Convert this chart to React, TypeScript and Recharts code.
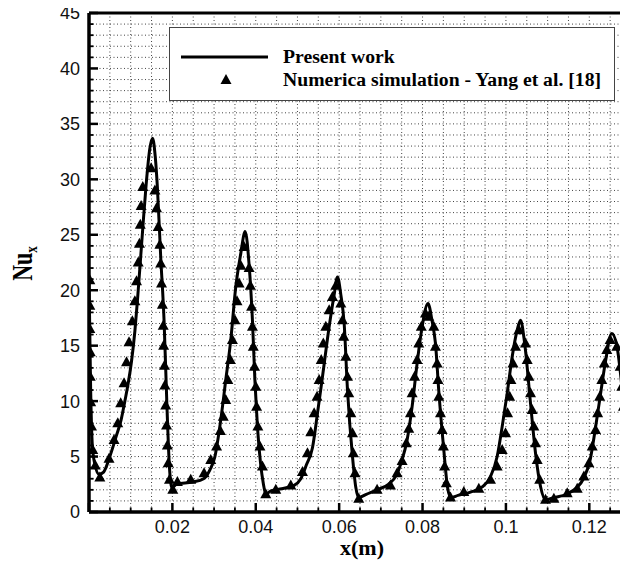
import {
  ComposedChart,
  Line,
  Scatter,
  XAxis,
  YAxis,
  CartesianGrid,
  ReferenceLine,
  Legend,
} from 'recharts';

// Present work (solid line), [x (m), Nu_x]
const presentWork: [number, number][] = [
  [0, 21], [0.0004, 11], [0.0008, 6], [0.0014, 4.3], [0.0024, 3.4], [0.0035, 3.6],
  [0.005, 5.0], [0.0065, 6.8], [0.0077, 8.3], [0.0086, 10.0], [0.0094, 11.6], [0.0102, 13.6],
  [0.011, 16.3], [0.0116, 19.0], [0.0122, 22.0], [0.0129, 25.6], [0.0137, 29.5], [0.0146, 32.8],
  [0.01525, 33.7], [0.0159, 32.0], [0.0164, 29.3], [0.0172, 23.0], [0.018, 17.3], [0.0187, 9.5],
  [0.0193, 4.0], [0.0199, 2.2], [0.021, 2.5], [0.0248, 2.7], [0.0275, 3.0], [0.029, 3.8],
  [0.0302, 5.0], [0.0316, 8.3], [0.0328, 11.9], [0.034, 15.5], [0.0352, 20.3], [0.0364, 23.3],
  [0.03745, 25.3], [0.0384, 22.3], [0.0392, 17.3], [0.0398, 11.8], [0.0404, 7.7], [0.0412, 4.2],
  [0.0418, 2.6], [0.0424, 1.6], [0.0436, 1.9], [0.0462, 2.1], [0.0492, 2.4], [0.0508, 3.0],
  [0.0522, 4.3], [0.0536, 5.8], [0.0548, 8.9], [0.056, 12.2], [0.0576, 16.7], [0.0588, 19.6],
  [0.0596, 21.2], [0.0604, 19.6], [0.0612, 17.0], [0.062, 11.0], [0.0632, 5.0], [0.064, 2.2],
  [0.0647, 1.3], [0.0665, 1.6], [0.0691, 2.0], [0.0718, 2.5], [0.0737, 3.3], [0.075, 4.6],
  [0.0763, 6.5], [0.0775, 9.5], [0.0787, 13.4], [0.0799, 16.7], [0.0813, 18.8], [0.0823, 17.2],
  [0.0831, 15.2], [0.0839, 10.9], [0.0851, 5.6], [0.086, 2.2], [0.0868, 1.3], [0.0885, 1.5],
  [0.0915, 1.8], [0.0945, 2.3], [0.0963, 3.2], [0.0979, 5.0], [0.0991, 7.7], [0.1003, 10.7],
  [0.1015, 14.0], [0.1027, 16.4], [0.1035, 17.3], [0.1045, 15.2], [0.1059, 9.8], [0.1071, 5.3],
  [0.1083, 2.3], [0.1095, 1.1], [0.1115, 1.3], [0.1145, 1.6], [0.117, 2.2], [0.1186, 3.0],
  [0.1202, 4.7], [0.1214, 7.4], [0.1226, 10.4], [0.1238, 13.4], [0.1254, 16.1], [0.1266, 15.0],
  [0.1282, 9.8], [0.1294, 4.5], [0.1302, 2.0],
];

// Numerical simulation - Yang et al. [18] (triangles)
const yangSim: [number, number][] = [
  [0.0002, 20.9], [0.0002, 18.6], [0.0002, 16.5], [0.0003, 14.4], [0.0003, 12.2], [0.0004, 9.9],
  [0.0006, 7.7], [0.0009, 5.6], [0.0015, 4.2],
  [0.0026, 3.1], [0.0048, 4.8], [0.006, 6.5], [0.0069, 8.0], [0.0076, 9.8], [0.0084, 11.6],
  [0.009, 13.5], [0.0096, 15.3], [0.0104, 17.2], [0.011, 19.0], [0.0114, 20.8], [0.0118, 22.5],
  [0.0121, 24.2], [0.0123, 25.9], [0.0125, 27.6], [0.0129, 29.3], [0.0149, 31.0],
  [0.0158, 29.0], [0.0162, 27.4], [0.0166, 25.7], [0.017, 24.1], [0.0172, 22.4], [0.0174, 20.6],
  [0.0176, 18.7], [0.0178, 16.8], [0.0179, 15.0], [0.0181, 13.2], [0.0182, 11.4], [0.0184, 9.6],
  [0.0186, 7.8], [0.0188, 6.0], [0.019, 4.4], [0.0193, 2.9], [0.0201, 2.0],
  [0.0212, 2.7], [0.0244, 2.9], [0.0276, 3.5], [0.0292, 4.7], [0.0306, 5.9], [0.0315, 7.3],
  [0.0322, 8.6], [0.0328, 10.1], [0.0333, 11.9], [0.0339, 13.7], [0.0344, 15.5], [0.035, 17.3],
  [0.0355, 19.0], [0.036, 20.6], [0.0364, 22.2], [0.0372, 23.9],
  [0.0384, 22.0], [0.0387, 20.4], [0.039, 18.5], [0.0392, 16.7], [0.0394, 14.9], [0.0397, 13.1],
  [0.04, 11.3], [0.0402, 9.5], [0.0405, 7.7], [0.041, 5.9], [0.0416, 4.1], [0.0424, 1.6],
  [0.0448, 2.0], [0.0484, 2.4], [0.0512, 3.6], [0.0524, 5.3], [0.0532, 7.2], [0.054, 8.9],
  [0.0547, 10.4], [0.0552, 11.9], [0.0557, 13.7], [0.0562, 15.2], [0.0568, 16.7], [0.0576, 18.2],
  [0.0584, 19.4], [0.0592, 20.4],
  [0.0604, 18.8], [0.0608, 17.3], [0.0611, 15.8], [0.0616, 14.0], [0.062, 12.2], [0.0623, 10.7],
  [0.0628, 8.9], [0.0632, 7.1], [0.0634, 5.3], [0.0638, 3.5], [0.0647, 1.2],
  [0.0691, 2.0], [0.0723, 2.4], [0.0739, 3.5], [0.0751, 4.6], [0.0761, 6.2], [0.0767, 7.5],
  [0.0771, 8.9], [0.0775, 10.7], [0.0781, 12.2], [0.0787, 13.7], [0.0791, 15.2], [0.0797, 16.7],
  [0.0807, 17.9], [0.0815, 17.6],
  [0.0827, 16.7], [0.0831, 14.9], [0.0835, 13.4], [0.0837, 11.9], [0.0839, 10.4], [0.0843, 8.9],
  [0.0847, 7.4], [0.085, 5.9], [0.0853, 4.1], [0.0857, 2.6], [0.0867, 1.3],
  [0.0899, 1.8], [0.0935, 2.1], [0.0963, 2.9], [0.0979, 4.1], [0.0991, 5.6], [0.0999, 7.1],
  [0.1004, 8.9], [0.1009, 10.4], [0.1012, 11.9], [0.1017, 13.4], [0.1023, 14.9], [0.1031, 16.4],
  [0.1047, 15.2], [0.1051, 13.7], [0.1055, 12.2], [0.1059, 10.7], [0.1063, 9.2], [0.1067, 7.7],
  [0.1071, 6.2], [0.1075, 4.7], [0.1081, 2.9], [0.1095, 1.1],
  [0.1115, 1.2], [0.1147, 1.7], [0.1171, 2.1], [0.1187, 3.2], [0.1199, 4.4], [0.1207, 5.9],
  [0.1215, 7.4], [0.122, 8.9], [0.1225, 10.4], [0.123, 11.9], [0.1236, 13.4], [0.1242, 14.6],
  [0.125, 15.5],
  [0.1266, 14.9], [0.1274, 13.1], [0.1278, 11.3], [0.1282, 9.5], [0.1286, 7.7], [0.129, 5.9],
];

const xTicks = [
  0, 0.005, 0.01, 0.015, 0.02, 0.025, 0.03, 0.035, 0.04, 0.045, 0.05, 0.055, 0.06, 0.065,
  0.07, 0.075, 0.08, 0.085, 0.09, 0.095, 0.1, 0.105, 0.11, 0.115, 0.12, 0.125, 0.13,
];
const yTicks = [
  0, 1, 2, 3, 4, 5, 6, 7, 8, 9, 10, 11, 12, 13, 14, 15, 16, 17, 18, 19, 20, 21, 22, 23,
  24, 25, 26, 27, 28, 29, 30, 31, 32, 33, 34, 35, 36, 37, 38, 39, 40, 41, 42, 43, 44, 45,
];

const legendLabels = ['Present work', 'Numerica simulation - Yang et al. [18]'];

const lineData = presentWork.map(([x, y]) => ({ x, y }));
const simData = yangSim.map(([x, y]) => ({ x, y }));

const SANS = '"Liberation Sans", Arial, Helvetica, sans-serif';
const SERIF = '"Liberation Serif", "Times New Roman", serif';
const TICK_MARGIN = 9;

const Triangle = ({ cx, cy }: { cx: number; cy: number }) => (
  <polygon
    points={`${cx},${cy - 6} ${cx + 5.5},${cy + 4} ${cx - 5.5},${cy + 4}`}
    fill='#000'
  />
);

const YTick = (props: any) => {
  const { x, y, payload } = props;
  const v = payload.value;
  const major = v % 5 === 0;
  const edge = x + TICK_MARGIN;
  return (
    <g>
      <line x1={edge} x2={edge + (major ? 9 : 4.5)} y1={y} y2={y} stroke='#000' strokeWidth={major ? 2.5 : 1.8} />
      {major && (
        <text x={x} y={y} dy='0.36em' textAnchor='end' fontFamily={SANS} fontSize={18} fill='#111'>
          {v}
        </text>
      )}
    </g>
  );
};

const XTick = (props: any) => {
  const { x, y, payload } = props;
  const k = Math.round(payload.value * 1000);
  const major = k % 20 === 0;
  const edge = y - TICK_MARGIN;
  return (
    <g>
      <line x1={x} x2={x} y1={edge} y2={edge - (major ? 9 : 4.5)} stroke='#000' strokeWidth={major ? 2.5 : 1.8} />
      {major && k > 0 && (
        <text x={x} y={edge + 21} textAnchor='middle' fontFamily={SANS} fontSize={18} fill='#111'>
          {String(k / 1000)}
        </text>
      )}
    </g>
  );
};

const YTitle = (props: any) => {
  const { viewBox } = props;
  const cx = viewBox.x + 32;
  const cy = viewBox.y + viewBox.height / 2;
  return (
    <text
      transform={`translate(${cx}, ${cy + 1}) rotate(-90) scale(1, 1.3)`}
      x={0}
      y={0}
      textAnchor='middle'
      fontFamily={SERIF}
      fontWeight='bold'
      fontSize={22}
      fill='#000'
    >
      Nu<tspan dy={4} fontSize={13}>x</tspan>
    </text>
  );
};

const XTitle = (props: any) => {
  const { viewBox } = props;
  return (
    <text
      x={362}
      y={viewBox.y + 43}
      textAnchor='middle'
      fontFamily={SERIF}
      fontWeight='bold'
      fontSize={22}
      fill='#000'
    >
      x(m)
    </text>
  );
};

const LegendBox = () => (
  <svg width={446} height={74} style={{ display: 'block' }}>
    <rect x={0.5} y={0.5} width={445} height={73} fill='#fff' stroke='#444' strokeWidth={1} />
    <line x1={12} x2={99} y1={30} y2={30} stroke='#000' strokeWidth={3} />
    <Triangle cx={57} cy={53} />
    <text x={114} y={36} fontFamily={SERIF} fontWeight='bold' fontSize={19.7} fill='#000'>
      {legendLabels[0]}
    </text>
    <text x={114} y={59} fontFamily={SERIF} fontWeight='bold' fontSize={19.7} fill='#000'>
      {legendLabels[1]}
    </text>
  </svg>
);

export default function App() {
  return (
    <div style={{ width: 628, height: 566, overflow: 'hidden', position: 'relative', margin: '-8px 0 0 -8px' }}>
      <ComposedChart width={631} height={566} margin={{ top: 13, right: 0, left: 0, bottom: 0 }}>
        <CartesianGrid stroke='#444' strokeDasharray='1 2.5' strokeWidth={1} />
        <XAxis
          dataKey='x'
          type='number'
          domain={[0, 0.13]}
          ticks={xTicks}
          interval={0}
          allowDataOverflow
          height={54}
          tickLine={false}
          tickSize={0}
          tickMargin={TICK_MARGIN}
          tick={<XTick />}
          axisLine={{ stroke: '#000', strokeWidth: 3.5 }}
          label={<XTitle />}
        />
        <YAxis
          type='number'
          domain={[0, 45]}
          ticks={yTicks}
          interval={0}
          width={89}
          tickLine={false}
          tickSize={0}
          tickMargin={TICK_MARGIN}
          tick={<YTick />}
          axisLine={{ stroke: '#000', strokeWidth: 3.5 }}
          label={<YTitle />}
        />
        <ReferenceLine y={45} stroke='#000' strokeWidth={3} />
        <Line
          data={lineData}
          dataKey='y'
          type='monotone'
          stroke='#000'
          strokeWidth={3}
          dot={false}
          isAnimationActive={false}
        />
        <Scatter
          data={simData}
          dataKey='y'
          fill='#000'
          shape={(p: any) => <Triangle cx={p.cx} cy={p.cy} />}
          isAnimationActive={false}
        />
        <Legend
          layout='vertical'
          align='center'
          verticalAlign='middle'
          wrapperStyle={{ left: 169, top: 27, width: 446, height: 74 }}
          content={() => <LegendBox />}
        />
      </ComposedChart>
    </div>
  );
}
